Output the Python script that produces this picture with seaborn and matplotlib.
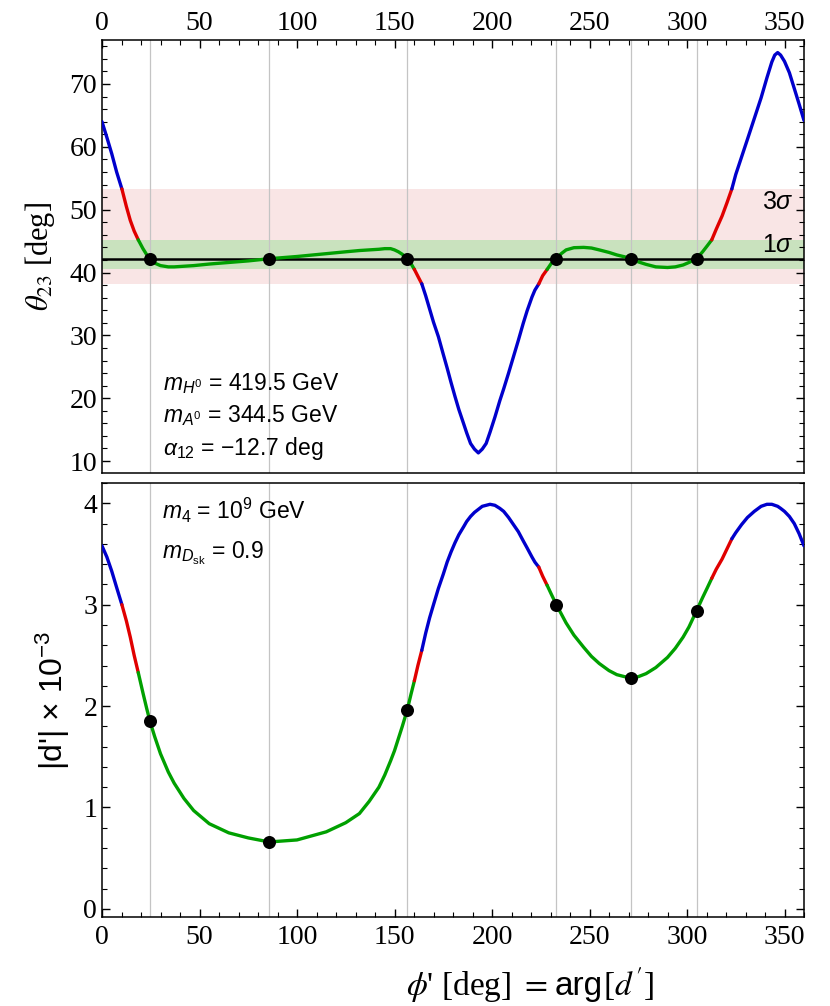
import numpy as np
import pandas as pd
import matplotlib
matplotlib.use("Agg")
import matplotlib.pyplot as plt
import seaborn as sns
from matplotlib.ticker import MultipleLocator
from matplotlib.offsetbox import TextArea, HPacker, AnchoredOffsetbox

# ---------------- data ----------------
phi = [0, 2.5, 5, 7.5, 10.2, 12.5, 14.5, 16.5, 18.6, 21,
       23, 24.6, 27, 30, 34, 37, 42, 47, 55, 65,
       75, 85.8, 100, 115, 125, 132, 137, 142, 145, 148,
       150, 152, 154, 156.5, 158.5, 160.2, 162, 164, 166, 168,
       170, 172.5, 175, 177, 179, 181, 183, 185.5, 187, 189,
       191, 193, 195, 197, 199, 201.5, 204, 206, 208.5, 211,
       213.5, 216, 218, 220.5, 222, 224, 226, 228.3, 230.5, 233,
       235.5, 238, 242, 247, 251, 255, 260, 264, 268, 271.2,
       275, 279, 284, 290, 294, 298, 301, 304.9, 308, 310.5,
       312.7, 315, 318, 320.5, 323, 325, 328, 331, 334.5, 338,
       341, 343.5, 345, 346.5, 348, 350, 352.5, 355, 357.5, 360]

theta23 = [64.0, 61.5, 58.9, 56.0, 53.3, 50.5, 48.3, 46.6, 45.2, 43.8,
           42.8, 42.2, 41.5, 41.1, 40.9, 40.9, 41.0, 41.1, 41.35, 41.6,
           41.85, 42.2, 42.55, 43.0, 43.3, 43.5, 43.6, 43.7, 43.8, 43.8,
           43.6, 43.3, 42.9, 42.2, 41.4, 40.5, 39.4, 38.2, 36.3, 34.2,
           32.1, 29.8, 27.0, 24.8, 22.5, 20.3, 18.2, 15.9, 14.5, 12.8,
           11.9, 11.3, 11.9, 12.8, 14.6, 17.0, 19.6, 21.5, 24.0, 26.6,
           29.2, 31.9, 33.9, 36.1, 37.2, 38.2, 39.5, 40.5, 41.5, 42.2,
           43.0, 43.6, 43.95, 44.0, 43.9, 43.6, 43.2, 42.8, 42.5, 42.2,
           41.7, 41.3, 40.9, 40.8, 40.9, 41.2, 41.6, 42.2, 43.3, 44.3,
           45.2, 46.9, 49.0, 51.1, 53.3, 55.6, 58.4, 61.2, 64.5, 67.8,
           71.0, 73.5, 74.6, 75.0, 74.6, 73.6, 71.8, 69.3, 66.8, 64.2]

dprime = [3.58, 3.47, 3.33, 3.17, 3.0, 2.84, 2.68, 2.5, 2.33, 2.13,
          1.97, 1.85, 1.70, 1.53, 1.35, 1.24, 1.09, 0.97, 0.84, 0.75,
          0.70, 0.66, 0.68, 0.76, 0.85, 0.94, 1.06, 1.2, 1.32, 1.46,
          1.56, 1.68, 1.8, 1.96, 2.12, 2.25, 2.4, 2.55, 2.72, 2.87,
          3.0, 3.16, 3.3, 3.42, 3.52, 3.61, 3.69, 3.77, 3.82, 3.87,
          3.91, 3.94, 3.97, 3.98, 3.99, 3.98, 3.95, 3.92, 3.86, 3.79,
          3.72, 3.63, 3.56, 3.47, 3.42, 3.37, 3.28, 3.19, 3.10, 3.0,
          2.91, 2.82, 2.70, 2.58, 2.49, 2.42, 2.35, 2.31, 2.29, 2.28,
          2.29, 2.32, 2.38, 2.48, 2.57, 2.68, 2.78, 2.94, 3.07, 3.17,
          3.26, 3.35, 3.45, 3.55, 3.65, 3.71, 3.79, 3.86, 3.92, 3.97,
          3.99, 3.99, 3.98, 3.97, 3.95, 3.92, 3.87, 3.8, 3.7, 3.58]

seg_edges = [0, 10.2, 18.6, 160.2, 164, 224, 228.3, 312.7, 323, 360]
seg_colors = ["#0000CC", "#E00000", "#00A000", "#E00000", "#0000CC",
              "#E00000", "#00A000", "#E00000", "#0000CC"]

dot_phi = [24.6, 85.8, 156.5, 233, 271.2, 304.9]
dot_theta = [42.2, 42.2, 42.2, 42.2, 42.2, 42.2]
dot_dprime = [1.85, 0.66, 1.96, 3.0, 2.28, 2.94]

theta_best = 42.2
band_3sigma = (38.2, 53.3)
band_1sigma = (40.5, 45.2)

x_ticks = [0, 50, 100, 150, 200, 250, 300, 350]
top_yticks = [10, 20, 30, 40, 50, 60, 70]
bot_yticks = [0, 1, 2, 3, 4]

assert len(phi) == len(theta23) == len(dprime)

# ---------------- style ----------------
sns.set_style("ticks")
plt.rcParams.update({
    "font.family": ["Liberation Serif", "DejaVu Serif"],
    "mathtext.fontset": "custom",
    "mathtext.rm": "Liberation Sans",
    "mathtext.it": "Liberation Sans:italic",
    "mathtext.bf": "Liberation Sans:bold",
    "axes.edgecolor": "black",
    "axes.linewidth": 1.1,
    "text.color": "black",
    "axes.labelcolor": "black",
    "xtick.color": "black",
    "ytick.color": "black",
})

rows = []
for i in range(len(seg_colors)):
    lo, hi = seg_edges[i], seg_edges[i + 1]
    for p, t, d in zip(phi, theta23, dprime):
        if lo <= p <= hi:
            rows.append({"phi": p, "theta": t, "dprime": d, "seg": f"s{i}"})
df = pd.DataFrame(rows)
pal = {f"s{i}": c for i, c in enumerate(seg_colors)}

fig = plt.figure(figsize=(8.3, 10.06), dpi=100)
L, R = 102 / 830, 804 / 830
ax1 = fig.add_axes([L, 1 - 473 / 1006, R - L, (473 - 40) / 1006])
ax2 = fig.add_axes([L, 1 - 917 / 1006, R - L, (917 - 483) / 1006])

sans = ["Liberation Sans", "DejaVu Sans"]
ann_fs = 16.5

for ax in (ax1, ax2):
    for p in dot_phi:
        ax.axvline(p, color="#c4c4c4", lw=0.9, zorder=1)
    ax.set_xlim(0, 360)
    ax.set_xticks(x_ticks)
    ax.xaxis.set_minor_locator(MultipleLocator(10))

# --- top panel ---
ax1.axhspan(*band_3sigma, color="#F9E5E5", lw=0, zorder=0)
ax1.axhspan(*band_1sigma, color="#C9E2BE", lw=0, zorder=0.5)
ax1.axhline(theta_best, color="black", lw=1.8, zorder=2)
sns.lineplot(data=df, x="phi", y="theta", hue="seg", palette=pal, estimator=None,
             sort=False, legend=False, linewidth=2.4, ax=ax1, zorder=3)
sns.scatterplot(x=dot_phi, y=dot_theta, color="black", s=88, linewidth=0,
                ax=ax1, zorder=5)
ax1.set_ylim(8.1, 77)
ax1.set_yticks(top_yticks)
ax1.yaxis.set_minor_locator(MultipleLocator(2))
ax1.tick_params(axis="x", which="both", direction="in", top=True, bottom=False,
                labeltop=True, labelbottom=False, pad=3)
ax1.tick_params(axis="y", which="both", direction="in", left=True, right=True,
                labelleft=True, labelright=False)
ax1.set_xlabel("")
ax1.set_ylabel(r"$\theta_{23}$ [deg]", family="Liberation Serif", math_fontfamily="stix",
               fontsize=22, labelpad=9)
ax1.text(346.5, 51.3, r"3$\sigma$", family=sans, fontsize=18, ha="center", va="center")
ax1.text(346.5, 44.4, r"1$\sigma$", family=sans, fontsize=18, ha="center", va="center")
ax1.text(76.5, 22.4, r"$m_{H^0}$ = 419.5 GeV", family=sans, fontsize=ann_fs,
         ha="center", va="center")
ax1.text(76.5, 17.3, r"$m_{A^0}$ = 344.5 GeV", family=sans, fontsize=ann_fs,
         ha="center", va="center")
ax1.text(72.5, 12.0, r"$\alpha_{12}$ = −12.7 deg", family=sans, fontsize=ann_fs,
         ha="center", va="center")

# --- bottom panel ---
sns.lineplot(data=df, x="phi", y="dprime", hue="seg", palette=pal, estimator=None,
             sort=False, legend=False, linewidth=2.4, ax=ax2, zorder=3)
sns.scatterplot(x=dot_phi, y=dot_dprime, color="black", s=88, linewidth=0,
                ax=ax2, zorder=5)
ax2.set_ylim(-0.08, 4.2)
ax2.set_yticks(bot_yticks)
ax2.yaxis.set_minor_locator(MultipleLocator(0.2))
ax2.tick_params(axis="x", which="both", direction="in", top=False, bottom=True,
                labeltop=False, labelbottom=True, pad=6)
ax2.tick_params(axis="y", which="both", direction="in", left=True, right=True,
                labelleft=True, labelright=False)
ax2.set_xlabel("")
ax2.set_ylabel(r"|d'| × $10^{-3}$", family=sans, fontsize=23, labelpad=8)
ax2.text(31, 3.93, r"$m_4$ = $10^9$ GeV", family=sans, fontsize=ann_fs,
         ha="left", va="center")
ax2.text(31, 3.51, r"$m_{D_{\mathrm{sk}}}$ = 0.9", family=sans, fontsize=ann_fs,
         ha="left", va="center")

# composite x label: serif / sans / serif pieces
xl_fs = 24
serif_props = dict(family="Liberation Serif", math_fontfamily="stix", fontsize=xl_fs,
                   color="black")
sans_props = dict(family="Liberation Sans", fontsize=xl_fs, color="black")
box = HPacker(children=[TextArea(r"$\phi$' [deg] $=$ ", textprops=serif_props),
                        TextArea("arg", textprops=sans_props),
                        TextArea(r"[$d\,'$]", textprops=serif_props)],
              align="baseline", pad=0, sep=0)
anch = AnchoredOffsetbox(loc="center", child=box, pad=0, borderpad=0, frameon=False,
                         bbox_to_anchor=((530 - 102) / 702, -0.156),
                         bbox_transform=ax2.transAxes)
ax2.add_artist(anch)

for ax in (ax1, ax2):
    ax.tick_params(which="major", length=6, width=1)
    ax.tick_params(which="minor", length=3.5, width=0.8)
    for lab in ax.get_xticklabels() + ax.get_yticklabels():
        lab.set_fontfamily("Liberation Serif")
        lab.set_fontsize(20)

fig.savefig("out.png", dpi=100)
